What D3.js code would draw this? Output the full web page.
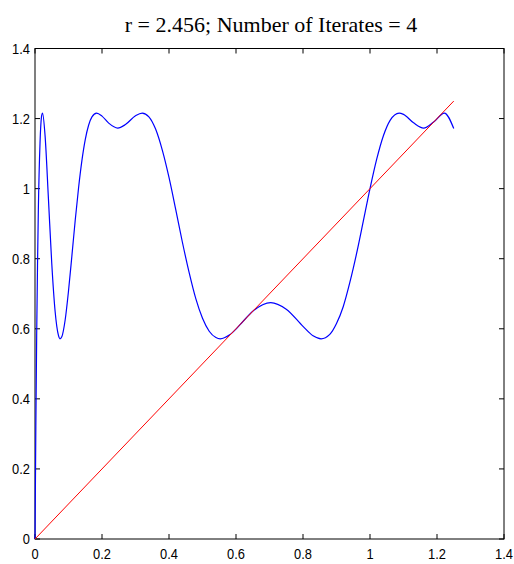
<!DOCTYPE html>
<html>
<head>
<meta charset="utf-8">
<script src="https://cdn.jsdelivr.net/npm/d3@7"></script>
<style>
  body { margin: 0; background: #fff; }
  .tick-label { font-family: "Liberation Sans", Arial, sans-serif; font-size: 15px; fill: #000; }
  .title { font-family: "Liberation Serif", "Times New Roman", serif; font-size: 22px; fill: #000; }
</style>
</head>
<body>
<div id="chart"></div>
<script>
// Data
const rValue = 2.456
const iterates = 4
const curveX = [0, 0.0025, 0.005, 0.0075, 0.01, 0.015, 0.02, 0.0225, 0.03, 0.04, 0.05, 0.06, 0.07, 0.0746, 0.08,
  0.09, 0.1, 0.11, 0.12, 0.13, 0.14, 0.15, 0.16, 0.17, 0.184, 0.2, 0.22, 0.247, 0.27, 0.3, 0.32, 0.34, 0.36,
  0.38, 0.4, 0.42, 0.44, 0.46, 0.48, 0.5, 0.52, 0.54, 0.553, 0.58, 0.6, 0.62, 0.65, 0.7036, 0.75, 0.8, 0.83,
  0.854, 0.88, 0.9, 0.92, 0.94, 0.96, 0.98, 1.0, 1.02, 1.04, 1.06, 1.087, 1.1, 1.13, 1.16, 1.19, 1.222, 1.25]
const curveY = [0, 0.32, 0.58, 0.78, 0.94, 1.13, 1.209, 1.2158, 1.152, 0.973, 0.787, 0.65, 0.581, 0.5714, 0.577,
  0.625, 0.708, 0.807, 0.909, 1.002, 1.08, 1.14, 1.181, 1.205, 1.2158, 1.207, 1.187, 1.1729, 1.183, 1.208, 1.2158, 1.205, 1.17,
  1.11, 1.032, 0.941, 0.847, 0.761, 0.686, 0.63, 0.593, 0.575, 0.5714, 0.582, 0.599, 0.62, 0.65, 0.6749, 0.656, 0.607, 0.58,
  0.5714, 0.584, 0.615, 0.663, 0.733, 0.815, 0.907, 1.0, 1.084, 1.151, 1.195, 1.2158, 1.212, 1.188, 1.1729, 1.19, 1.2158, 1.1715]
const diagX = [0, 1.25]
const diagY = [0, 1.25]
const xTicks = [0, 0.2, 0.4, 0.6, 0.8, 1, 1.2, 1.4]
const yTicks = [0, 0.2, 0.4, 0.6, 0.8, 1, 1.2, 1.4]

// Dimensions
const width = 514
const height = 564
const plotLeft = 35
const plotRight = 504
const plotTop = 48.5
const plotBottom = 539
const tickLen = 5
const narrow = 0.86

const svg = d3.select("#chart")
  .append("svg")
    .attr("width", width)
    .attr("height", height)

const x = d3.scaleLinear().domain([0, 1.4]).range([plotLeft, plotRight])
const y = d3.scaleLinear().domain([0, 1.4]).range([plotBottom, plotTop])

// Title
svg.append("text")
    .attr("class", "title")
    .attr("x", 271)
    .attr("y", 32)
    .attr("text-anchor", "middle")
    .text("r = " + rValue + "; Number of Iterates = " + iterates)

// Box with inward ticks on all four sides
const box = svg.append("g")
box.append("rect")
    .attr("x", plotLeft)
    .attr("y", plotTop)
    .attr("width", plotRight - plotLeft)
    .attr("height", plotBottom - plotTop)
    .attr("fill", "none")
    .attr("stroke", "#000")
    .attr("stroke-width", 1)

box.selectAll(".xtick-b")
    .data(xTicks)
    .enter().append("line")
    .attr("x1", function(d) { return x(d) })
    .attr("x2", function(d) { return x(d) })
    .attr("y1", plotBottom)
    .attr("y2", plotBottom - tickLen)
    .attr("stroke", "#000")

box.selectAll(".xtick-t")
    .data(xTicks)
    .enter().append("line")
    .attr("x1", function(d) { return x(d) })
    .attr("x2", function(d) { return x(d) })
    .attr("y1", plotTop)
    .attr("y2", plotTop + tickLen)
    .attr("stroke", "#000")

box.selectAll(".ytick-l")
    .data(yTicks)
    .enter().append("line")
    .attr("x1", plotLeft)
    .attr("x2", plotLeft + tickLen)
    .attr("y1", function(d) { return y(d) })
    .attr("y2", function(d) { return y(d) })
    .attr("stroke", "#000")

box.selectAll(".ytick-r")
    .data(yTicks)
    .enter().append("line")
    .attr("x1", plotRight)
    .attr("x2", plotRight - tickLen)
    .attr("y1", function(d) { return y(d) })
    .attr("y2", function(d) { return y(d) })
    .attr("stroke", "#000")

// Tick labels (narrow like the MATLAB font)
svg.selectAll(".xlabel")
    .data(xTicks)
    .enter().append("text")
    .attr("class", "tick-label")
    .attr("transform", function(d) { return "translate(" + x(d) + "," + 559 + ") scale(" + narrow + ",1)" })
    .attr("text-anchor", "middle")
    .text(function(d) { return d3.format("~g")(d) })

svg.selectAll(".ylabel")
    .data(yTicks)
    .enter().append("text")
    .attr("class", "tick-label")
    .attr("transform", function(d) { return "translate(" + 30 + "," + y(d) + ") scale(" + narrow + ",1)" })
    .attr("text-anchor", "end")
    .attr("dy", "0.36em")
    .text(function(d) { return d3.format("~g")(d) })

// Curves
const curvePts = curveX.map(function(d, i) { return [d, curveY[i]] })
const diagPts = diagX.map(function(d, i) { return [d, diagY[i]] })

const line = d3.line()
    .x(function(d) { return x(d[0]) })
    .y(function(d) { return y(d[1]) })

svg.append("path")
    .datum(curvePts)
    .attr("d", line.curve(d3.curveMonotoneX))
    .attr("fill", "none")
    .attr("stroke", "#0000ff")
    .attr("stroke-width", 1.2)

svg.append("path")
    .datum(diagPts)
    .attr("d", d3.line()
      .x(function(d) { return x(d[0]) })
      .y(function(d) { return y(d[1]) }))
    .attr("fill", "none")
    .attr("stroke", "#ff0000")
    .attr("stroke-width", 1)
</script>
</body>
</html>
